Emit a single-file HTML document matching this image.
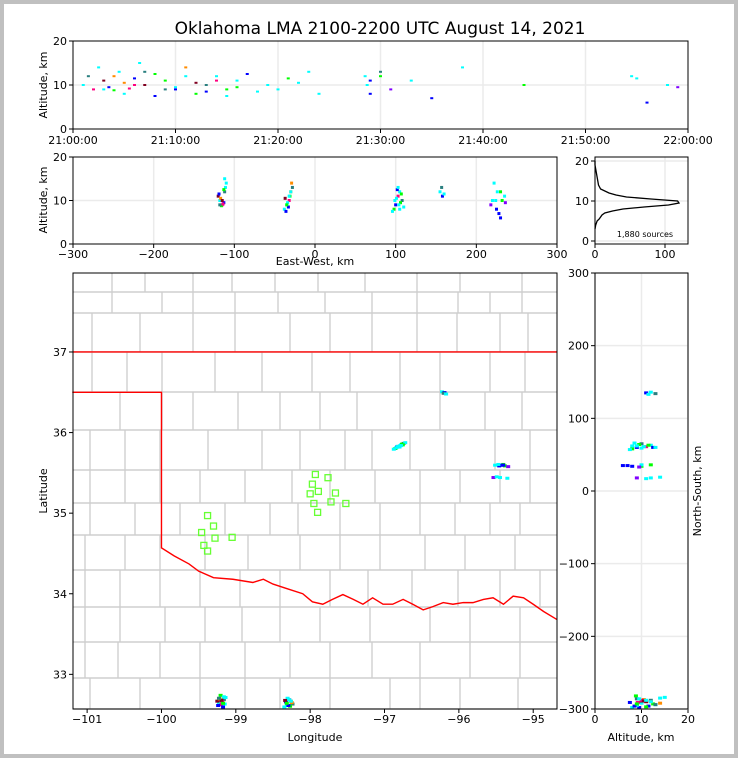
<!DOCTYPE html>
<html><head><meta charset="utf-8"><style>
html,body{margin:0;padding:0;background:#fff}
svg{display:block;font-family:"DejaVu Sans","Liberation Sans",sans-serif}
</style></head><body>
<svg id="s" width="738" height="758" viewBox="0 0 738 758">
<rect x="2" y="2" width="734" height="754" fill="#fff" stroke="#c0c0c0" stroke-width="4"/>
<text x="380" y="34" font-size="17" text-anchor="middle">Oklahoma LMA 2100-2200 UTC August 14, 2021</text>
<g id="g"></g>
</svg>
<script>
// source data: time (min after 21:00), east-west km, north-south km, altitude km, color index
const srcT=[1,1.5,2,2.5,3,3.5,4,4.5,5,5.5,6,6.5,7,8,9, 3,4,5,6,7,8,9,10,11,12,13,14,15,16, 10,11,12,13,14,15,16,17,18,19,20,21,22,23,24, 28.5,29,30,55, 28.7,29,30,31,33,35,38,44,54.5,56,58,59];
const srcEW=[-118,-112,-115,-110,-120,-113,-116,-111,-117,-114,-119,-112,-115,-113,-118, -35,-30,-38,-32,-28,-36,-31,-34,-29,-37,-33,-30,-35,-32, 100,105,98,108,103,96,106,102,110,99,104,107,101,103,105, 155,158,157,160, 220,225,230,218,235,228,222,232,226,230,224,236];
const srcNS=[-292,-288,-295,-285,-290,-298,-282,-294,-287,-291,-296,-284,-289,-293,-286, -295,-290,-298,-288,-294,-291,-297,-286,-292,-289,-296,-290,-293,-288, 60,63,58,65,61,57,64,60,66,59,62,63,61,60,62, 136,135,134,133, 35,34,36,18,17,35,19,34,18,35,36,33];
const srcAlt=[10,12,9,14,11,9.5,8.8,13,10.5,9.2,11.5,15,10,12.5,9, 9,12,8,10,13,7.5,11,9.5,14,10.5,8.5,12,9,11, 9,12,8,10,11,7.5,9.5,12.5,8.5,10,9,11.5,10.5,13,8, 12,11,13,11.5, 10,8,12,9,11,7,14,10,12,6,10,9.5];
const srcC=[0,1,3,0,4,5,6,0,2,3,5,0,4,6,1, 0,2,0,3,1,5,6,0,2,4,5,0,6,0, 5,0,6,1,3,0,6,5,0,0,0,6,0,0,0, 0,5,1,0, 0,5,6,7,0,5,0,6,0,5,0,7];
const palette=['#00ffff','#2a7f7f','#ff8c00','#ff0080','#800020','#0000ff','#00ff00','#8000ff'];
// altitude histogram (bin centers km, counts)
const histAlt=[3,4,5,5.5,6,6.5,7,7.5,8,8.5,9,9.5,10,10.5,11,11.5,12,13,14,15,16,17,18,19,20];
const histCnt=[0,1,3,6,8,10,14,25,40,70,105,120,118,80,45,30,20,8,5,4,3,2,1,0,0];
// station locations (lon, lat)
const stLon=[-99.38,-99.3,-99.46,-99.28,-99.43,-99.38,-99.05,-97.93,-97.97,-98.0,-97.89,-97.76,-97.95,-97.9,-97.72,-97.66,-97.52];
const stLat=[34.97,34.84,34.76,34.69,34.6,34.53,34.7,35.48,35.36,35.24,35.27,35.44,35.12,35.01,35.14,35.25,35.12];
const border=[[-101.2,36.5],[-100,36.5],[-100,34.57],[-99.83,34.47],[-99.63,34.37],[-99.5,34.28],[-99.3,34.2],[-99.04,34.18],[-98.77,34.14],[-98.63,34.18],[-98.5,34.12],[-98.3,34.06],[-98.1,34.0],[-97.97,33.9],[-97.83,33.87],[-97.7,33.93],[-97.56,33.99],[-97.42,33.93],[-97.29,33.87],[-97.16,33.95],[-97.02,33.87],[-96.89,33.87],[-96.75,33.93],[-96.62,33.87],[-96.48,33.8],[-96.35,33.84],[-96.21,33.89],[-96.08,33.87],[-95.94,33.89],[-95.81,33.89],[-95.67,33.93],[-95.54,33.95],[-95.4,33.87],[-95.27,33.97],[-95.13,33.95],[-95.0,33.87],[-94.86,33.78],[-94.68,33.68]];
const ox=-97.93, oy=35.28;

const SVGNS='http://www.w3.org/2000/svg';
const G=document.getElementById('g');
function el(t,a,p){const e=document.createElementNS(SVGNS,t);for(const k in a)e.setAttribute(k,a[k]);(p||G).appendChild(e);return e;}
function txt(x,y,s,a,p){const e=el('text',Object.assign({x:x,y:y,'font-size':11},a||{}),p);e.textContent=s;return e;}
function lin(a0,a1,p0,p1){return v=>p0+(v-a0)/(a1-a0)*(p1-p0);}

// ---- top panel
const tX=lin(0,60,73,688), tY=lin(0,20,129,41);
const topG=el('g',{});


[10,20,30,40,50].forEach(v=>el('line',{x1:tX(v),x2:tX(v),y1:41,y2:129,stroke:'#ebebeb','stroke-width':1.5},topG));
el('line',{x1:73,x2:688,y1:tY(10),y2:tY(10),stroke:'#ebebeb','stroke-width':1.5},topG);
const tl=['21:00:00','21:10:00','21:20:00','21:30:00','21:40:00','21:50:00','22:00:00'];
tl.forEach((s,i)=>{const x=tX(i*10);el('line',{x1:x,x2:x,y1:129,y2:133,stroke:'#000'},topG);const t=txt(x,144,s,{'text-anchor':'middle'},topG);});
[0,10,20].forEach(v=>{el('line',{x1:69,x2:73,y1:tY(v),y2:tY(v),stroke:'#000'},topG);txt(67,tY(v)+4,String(v),{'text-anchor':'end'},topG);});
srcT.forEach((t,i)=>{const r=el('rect',{x:tX(t)-1.5,y:tY(srcAlt[i])-1,width:3,height:2,fill:palette[srcC[i]]},topG);});
el('rect',{x:73,y:41,width:615,height:88,fill:'none',stroke:'#000'},topG);
txt(47,85,'Altitude, km',{'text-anchor':'middle',transform:'rotate(-90 47 85)'},topG);

// ---- middle EW panel
const eX=lin(-300,300,73,557), eY=lin(0,20,244,157);
const midG=el('g',{});


[-200,-100,0,100,200].forEach(v=>el('line',{x1:eX(v),x2:eX(v),y1:157,y2:244,stroke:'#ebebeb','stroke-width':1.5},midG));
el('line',{x1:73,x2:557,y1:eY(10),y2:eY(10),stroke:'#ebebeb','stroke-width':1.5},midG);
[-300,-200,-100,0,100,200,300].forEach(v=>{el('line',{x1:eX(v),x2:eX(v),y1:244,y2:248,stroke:'#000'},midG);txt(eX(v),258,String(v).replace('-','−'),{'text-anchor':'middle'},midG);});
[0,10,20].forEach(v=>{el('line',{x1:69,x2:73,y1:eY(v),y2:eY(v),stroke:'#000'},midG);txt(67,eY(v)+4,String(v),{'text-anchor':'end'},midG);});
srcEW.forEach((e,i)=>{const r=el('rect',{x:eX(e)-1.5,y:eY(srcAlt[i])-1.5,width:3,height:3,fill:palette[srcC[i]]},midG);});
el('rect',{x:73,y:157,width:484,height:87,fill:'none',stroke:'#000'},midG);
txt(47,200,'Altitude, km',{'text-anchor':'middle',transform:'rotate(-90 47 200)'},midG);
txt(315,265,'East-West, km',{'text-anchor':'middle'},midG);

// ---- histogram
const hX=lin(0,100,595,665), hY=lin(0,20,241,161);
const hg=el('g',{});


[0,100].forEach(v=>el('line',{x1:hX(v),x2:hX(v),y1:157,y2:244,stroke:'#ebebeb','stroke-width':1.5},hg));
[0,10,20].forEach(v=>{el('line',{x1:595,x2:688,y1:hY(v),y2:hY(v),stroke:'#ebebeb','stroke-width':1.5},hg);el('line',{x1:591,x2:595,y1:hY(v),y2:hY(v),stroke:'#000'},hg);txt(589,hY(v)+4,String(v),{'text-anchor':'end'},hg);});
[0,100].forEach(v=>{el('line',{x1:hX(v),x2:hX(v),y1:244,y2:248,stroke:'#000'},hg);txt(hX(v),258,String(v),{'text-anchor':'middle'},hg);});
const hp=el('polyline',{points:histAlt.map((a,i)=>hX(histCnt[i])+','+hY(a)).join(' '),fill:'none',stroke:'#000','stroke-width':1.3},hg);


el('rect',{x:595,y:157,width:93,height:87,fill:'none',stroke:'#000'},hg);
txt(645,237,'1,880 sources',{'text-anchor':'middle','font-size':8},hg);

// ---- map
const mX=lin(-101.19,-94.68,73,557), mY=lin(37.98,32.57,273,709);
const mapG=el('g',{});


const rows=[[273,292,[112,145,193,232,275,318,365,417,460,522]],[292,313,[112,162,193,235,278,325,372,417,458,490,522]],[313,352,[92,140,193,235,290,330,372,417,457,500,528]],[352,392,[92,127,162,215,262,312,350,400,440,490,525]],[392,430,[120,162,193,238,280,320,357,400,440,485,522]],[430,470,[90,125,160,208,262,300,345,372,410,445,495,530]],[470,503,[90,125,160,200,245,292,330,375,420,460,500,530]],[503,535,[90,135,180,225,270,298,340,380,420,455,490,520]],[535,570,[85,125,160,205,248,300,340,380,425,465,515]],[570,607,[85,120,160,200,240,280,330,368,412,458,500,540]],[607,642,[85,120,165,205,242,280,320,370,430,470,520]],[642,678,[85,118,160,200,245,290,330,372,420,470,520]],[678,709,[90,140,200,245,280,330,390,420,460,518]]];
const cg=el('g',{stroke:'#cfcfcf','stroke-width':1.4,fill:'none'},mapG);


rows.forEach(r=>{el('line',{x1:73,x2:557,y1:r[1],y2:r[1]},cg);r[2].forEach(x=>el('line',{x1:x,x2:x,y1:r[0],y2:r[1]},cg));});
const bp=el('polyline',{points:border.map(p=>mX(p[0])+','+mY(p[1])).join(' '),fill:'none',stroke:'#ff0000','stroke-width':1.4},mapG);


el('line',{x1:73,x2:557,y1:mY(37),y2:mY(37),stroke:'#ff0000','stroke-width':1.4},mapG);
stLon.forEach((lo,i)=>{const r=el('rect',{x:mX(lo)-3,y:mY(stLat[i])-3,width:6,height:6,fill:'none',stroke:'#66ff33','stroke-width':1.3},mapG);});
srcEW.forEach((e,i)=>{const lo=ox+e/91, la=oy+srcNS[i]/111;const r=el('rect',{x:mX(lo)-2,y:mY(la)-1.5,width:4,height:3,fill:palette[srcC[i]]},mapG);});
[-101,-100,-99,-98,-97,-96,-95].forEach(v=>{el('line',{x1:mX(v),x2:mX(v),y1:709,y2:713,stroke:'#000'},mapG);txt(mX(v),723,String(v).replace('-','−'),{'text-anchor':'middle'},mapG);});
[33,34,35,36,37].forEach(v=>{el('line',{x1:69,x2:73,y1:mY(v),y2:mY(v),stroke:'#000'},mapG);txt(67,mY(v)+4,String(v),{'text-anchor':'end'},mapG);});
el('rect',{x:73,y:273,width:484,height:436,fill:'none',stroke:'#000'},mapG);
txt(47,491,'Latitude',{'text-anchor':'middle',transform:'rotate(-90 47 491)'},mapG);
txt(315,741,'Longitude',{'text-anchor':'middle'},mapG);

// ---- right NS panel
const rX=lin(0,20,595,688), rY=lin(-300,300,709,273);
const rp=el('g',{});


[0,10,20].forEach(v=>{el('line',{x1:rX(v),x2:rX(v),y1:273,y2:709,stroke:'#ebebeb','stroke-width':1.5},rp);el('line',{x1:rX(v),x2:rX(v),y1:709,y2:713,stroke:'#000'},rp);txt(rX(v),723,String(v),{'text-anchor':'middle'},rp);});
[-300,-200,-100,0,100,200,300].forEach(v=>{el('line',{x1:595,x2:688,y1:rY(v),y2:rY(v),stroke:'#ebebeb','stroke-width':1.5},rp);el('line',{x1:591,x2:595,y1:rY(v),y2:rY(v),stroke:'#000'},rp);txt(589,rY(v)+4,String(v).replace('-','−'),{'text-anchor':'end'},rp);});
srcNS.forEach((n,i)=>{const r=el('rect',{x:rX(srcAlt[i])-2,y:rY(n)-1.5,width:4,height:3,fill:palette[srcC[i]]},rp);});
el('rect',{x:595,y:273,width:93,height:436,fill:'none',stroke:'#000'},rp);
txt(701,491,'North-South, km',{'text-anchor':'middle',transform:'rotate(-90 701 491)'},rp);
txt(641,741,'Altitude, km',{'text-anchor':'middle'},rp);
</script>
</body></html>
